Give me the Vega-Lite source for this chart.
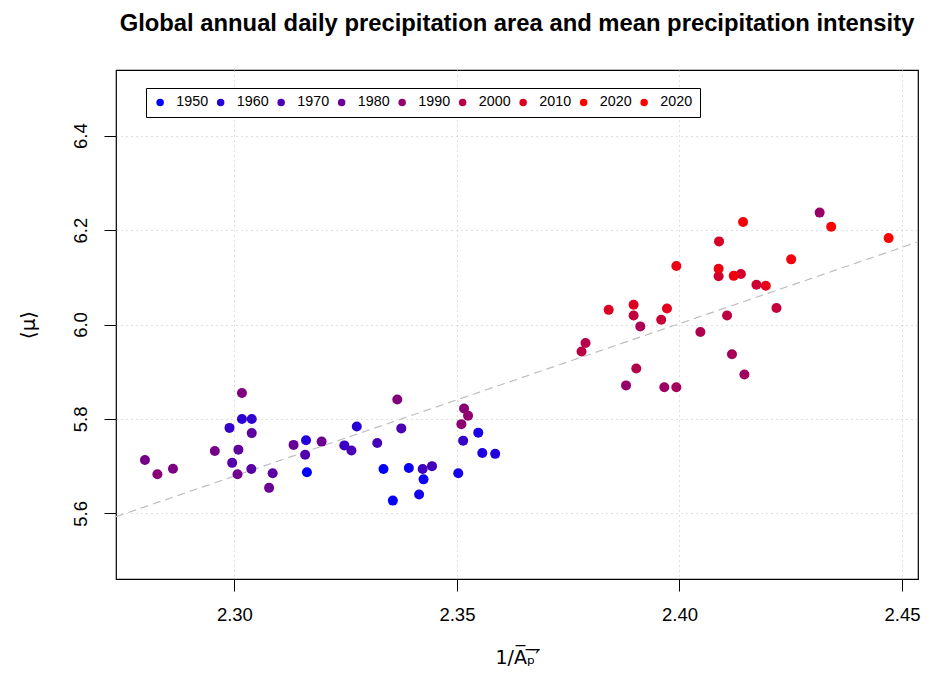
{
  "$schema": "https://vega.github.io/schema/vega-lite/v6.json",
  "width": 802,
  "height": 509,
  "autosize": {"type": "none"},
  "padding": {"left": 116, "top": 70, "right": 17, "bottom": 95},
  "background": "white",
  "title": {
    "text": "Global annual daily precipitation area and mean precipitation intensity",
    "font": "Liberation Sans",
    "fontSize": 23.8,
    "fontWeight": "bold",
    "color": "black",
    "anchor": "middle",
    "frame": "group",
    "baseline": "alphabetic",
    "offset": 15
  },
  "config": {
    "view": {"stroke": "black", "strokeWidth": 1.2},
    "font": "Liberation Sans"
  },
  "encoding": {
    "x": {
      "field": "x",
      "type": "quantitative",
      "scale": {"domain": [2.2734, 2.4536], "nice": false, "zero": false},
      "axis": {
        "values": [2.30, 2.35, 2.40, 2.45],
        "format": ".2f",
        "domain": false,
        "ticks": true,
        "tickColor": "black",
        "tickSize": 12,
        "tickWidth": 1,
        "labelFont": "Liberation Sans",
        "labelFontSize": 18.5,
        "labelColor": "black",
        "labelPadding": 14,
        "grid": true,
        "gridDash": [1, 4],
        "gridColor": "#c0c0c0",
        "gridWidth": 1,
        "title": "1/A̅ₚ̅′̅",
        "titleFont": "DejaVu Sans",
        "titleFontSize": 19,
        "titleFontWeight": "normal",
        "titleColor": "black",
        "titleX": 401,
        "titleY": 78,
        "titleBaseline": "middle",
        "titleAlign": "center"
      }
    },
    "y": {
      "field": "y",
      "type": "quantitative",
      "scale": {"domain": [5.461, 6.539], "nice": false, "zero": false},
      "axis": {
        "values": [5.6, 5.8, 6.0, 6.2, 6.4],
        "format": ".1f",
        "domain": false,
        "tickColor": "black",
        "tickSize": 12,
        "tickWidth": 1,
        "labelFont": "Liberation Sans",
        "labelFontSize": 18.5,
        "labelColor": "black",
        "labelAngle": -90,
        "labelAlign": "center",
        "labelBaseline": "bottom",
        "labelPadding": 14,
        "grid": true,
        "gridDash": [1, 4],
        "gridColor": "#c0c0c0",
        "gridWidth": 1,
        "title": "⟨μ⟩",
        "titleFont": "DejaVu Sans",
        "titleFontSize": 20,
        "titleFontWeight": "normal",
        "titleColor": "black",
        "titleAngle": -90,
        "titleX": -88,
        "titleY": 254.5,
        "titleBaseline": "middle",
        "titleAlign": "center"
      }
    }
  },
  "layer": [
    {
      "data": {"values": [{"x": 2.2734, "y": 5.593}, {"x": 2.4536, "y": 6.175}]},
      "mark": {"type": "line", "color": "#bebebe", "strokeWidth": 1.2, "strokeDash": [8, 5], "clip": true}
    },
    {
      "data": {
        "values": [
          {"year": 1950, "x": 2.3163, "y": 5.687},
          {"year": 1951, "x": 2.3335, "y": 5.694},
          {"year": 1952, "x": 2.3356, "y": 5.627},
          {"year": 1953, "x": 2.3392, "y": 5.696},
          {"year": 1954, "x": 2.3425, "y": 5.672},
          {"year": 1955, "x": 2.3415, "y": 5.640},
          {"year": 1956, "x": 2.3503, "y": 5.685},
          {"year": 1957, "x": 2.3548, "y": 5.771},
          {"year": 1958, "x": 2.3557, "y": 5.728},
          {"year": 1959, "x": 2.3586, "y": 5.726},
          {"year": 1960, "x": 2.3161, "y": 5.755},
          {"year": 1961, "x": 2.3275, "y": 5.784},
          {"year": 1962, "x": 2.3017, "y": 5.800},
          {"year": 1963, "x": 2.3039, "y": 5.800},
          {"year": 1964, "x": 2.2989, "y": 5.781},
          {"year": 1965, "x": 2.3514, "y": 5.754},
          {"year": 1966, "x": 2.3247, "y": 5.744},
          {"year": 1967, "x": 2.3423, "y": 5.694},
          {"year": 1968, "x": 2.3444, "y": 5.700},
          {"year": 1969, "x": 2.3321, "y": 5.749},
          {"year": 1970, "x": 2.3263, "y": 5.733},
          {"year": 1971, "x": 2.3375, "y": 5.780},
          {"year": 1972, "x": 2.3159, "y": 5.724},
          {"year": 1973, "x": 2.2995, "y": 5.707},
          {"year": 1974, "x": 2.3038, "y": 5.694},
          {"year": 1975, "x": 2.3086, "y": 5.685},
          {"year": 1976, "x": 2.3039, "y": 5.770},
          {"year": 1977, "x": 2.3009, "y": 5.735},
          {"year": 1978, "x": 2.3133, "y": 5.745},
          {"year": 1979, "x": 2.3078, "y": 5.654},
          {"year": 1980, "x": 2.3196, "y": 5.752},
          {"year": 1981, "x": 2.3007, "y": 5.683},
          {"year": 1982, "x": 2.2799, "y": 5.713},
          {"year": 1983, "x": 2.2956, "y": 5.732},
          {"year": 1984, "x": 2.2862, "y": 5.6945},
          {"year": 1985, "x": 2.3017, "y": 5.855},
          {"year": 1986, "x": 2.3366, "y": 5.841},
          {"year": 1987, "x": 2.2827, "y": 5.683},
          {"year": 1988, "x": 2.3516, "y": 5.822},
          {"year": 1989, "x": 2.3510, "y": 5.789},
          {"year": 1990, "x": 2.3525, "y": 5.807},
          {"year": 1991, "x": 2.3880, "y": 5.871},
          {"year": 1992, "x": 2.4315, "y": 6.237},
          {"year": 1993, "x": 2.3966, "y": 5.867},
          {"year": 1994, "x": 2.4146, "y": 5.894},
          {"year": 1995, "x": 2.3993, "y": 5.867},
          {"year": 1996, "x": 2.4118, "y": 5.937},
          {"year": 1997, "x": 2.3912, "y": 5.996},
          {"year": 1998, "x": 2.4047, "y": 5.984},
          {"year": 1999, "x": 2.3903, "y": 5.907},
          {"year": 2000, "x": 2.3789, "y": 5.961},
          {"year": 2001, "x": 2.3780, "y": 5.943},
          {"year": 2002, "x": 2.4107, "y": 6.019},
          {"year": 2003, "x": 2.3897, "y": 6.019},
          {"year": 2004, "x": 2.4218, "y": 6.035},
          {"year": 2005, "x": 2.3959, "y": 6.010},
          {"year": 2006, "x": 2.4173, "y": 6.084},
          {"year": 2007, "x": 2.4088, "y": 6.102},
          {"year": 2008, "x": 2.4138, "y": 6.107},
          {"year": 2009, "x": 2.4089, "y": 6.176},
          {"year": 2010, "x": 2.3841, "y": 6.031},
          {"year": 2011, "x": 2.3897, "y": 6.042},
          {"year": 2012, "x": 2.3972, "y": 6.034},
          {"year": 2013, "x": 2.4194, "y": 6.082},
          {"year": 2014, "x": 2.3993, "y": 6.124},
          {"year": 2015, "x": 2.4088, "y": 6.118},
          {"year": 2016, "x": 2.4122, "y": 6.103},
          {"year": 2017, "x": 2.4251, "y": 6.138},
          {"year": 2018, "x": 2.4143, "y": 6.217},
          {"year": 2019, "x": 2.4341, "y": 6.207},
          {"year": 2020, "x": 2.4470, "y": 6.183}
        ]
      },
      "mark": {"type": "point", "filled": true, "size": 100, "opacity": 1, "clip": true},
      "encoding": {
        "color": {
          "field": "year",
          "type": "quantitative",
          "scale": {"domain": [1950, 2020], "range": ["#0000FF", "#FF0000"], "interpolate": "rgb"},
          "legend": {
            "type": "symbol",
            "values": [1950, 1960, 1970, 1980, 1990, 2000, 2010, 2020, 2020],
            "format": "d",
            "title": null,
            "orient": "none",
            "legendX": 30,
            "legendY": 18,
            "direction": "horizontal",
            "columns": 9,
            "symbolType": "circle",
            "symbolSize": 56,
            "symbolStrokeWidth": 0,
            "labelFont": "Liberation Sans",
            "labelFontSize": 14.3,
            "labelColor": "black",
            "labelOffset": 9,
            "columnPadding": 4.5,
            "padding": 7,
            "strokeColor": "black",
            "fillColor": "white"
          }
        }
      }
    }
  ]
}
